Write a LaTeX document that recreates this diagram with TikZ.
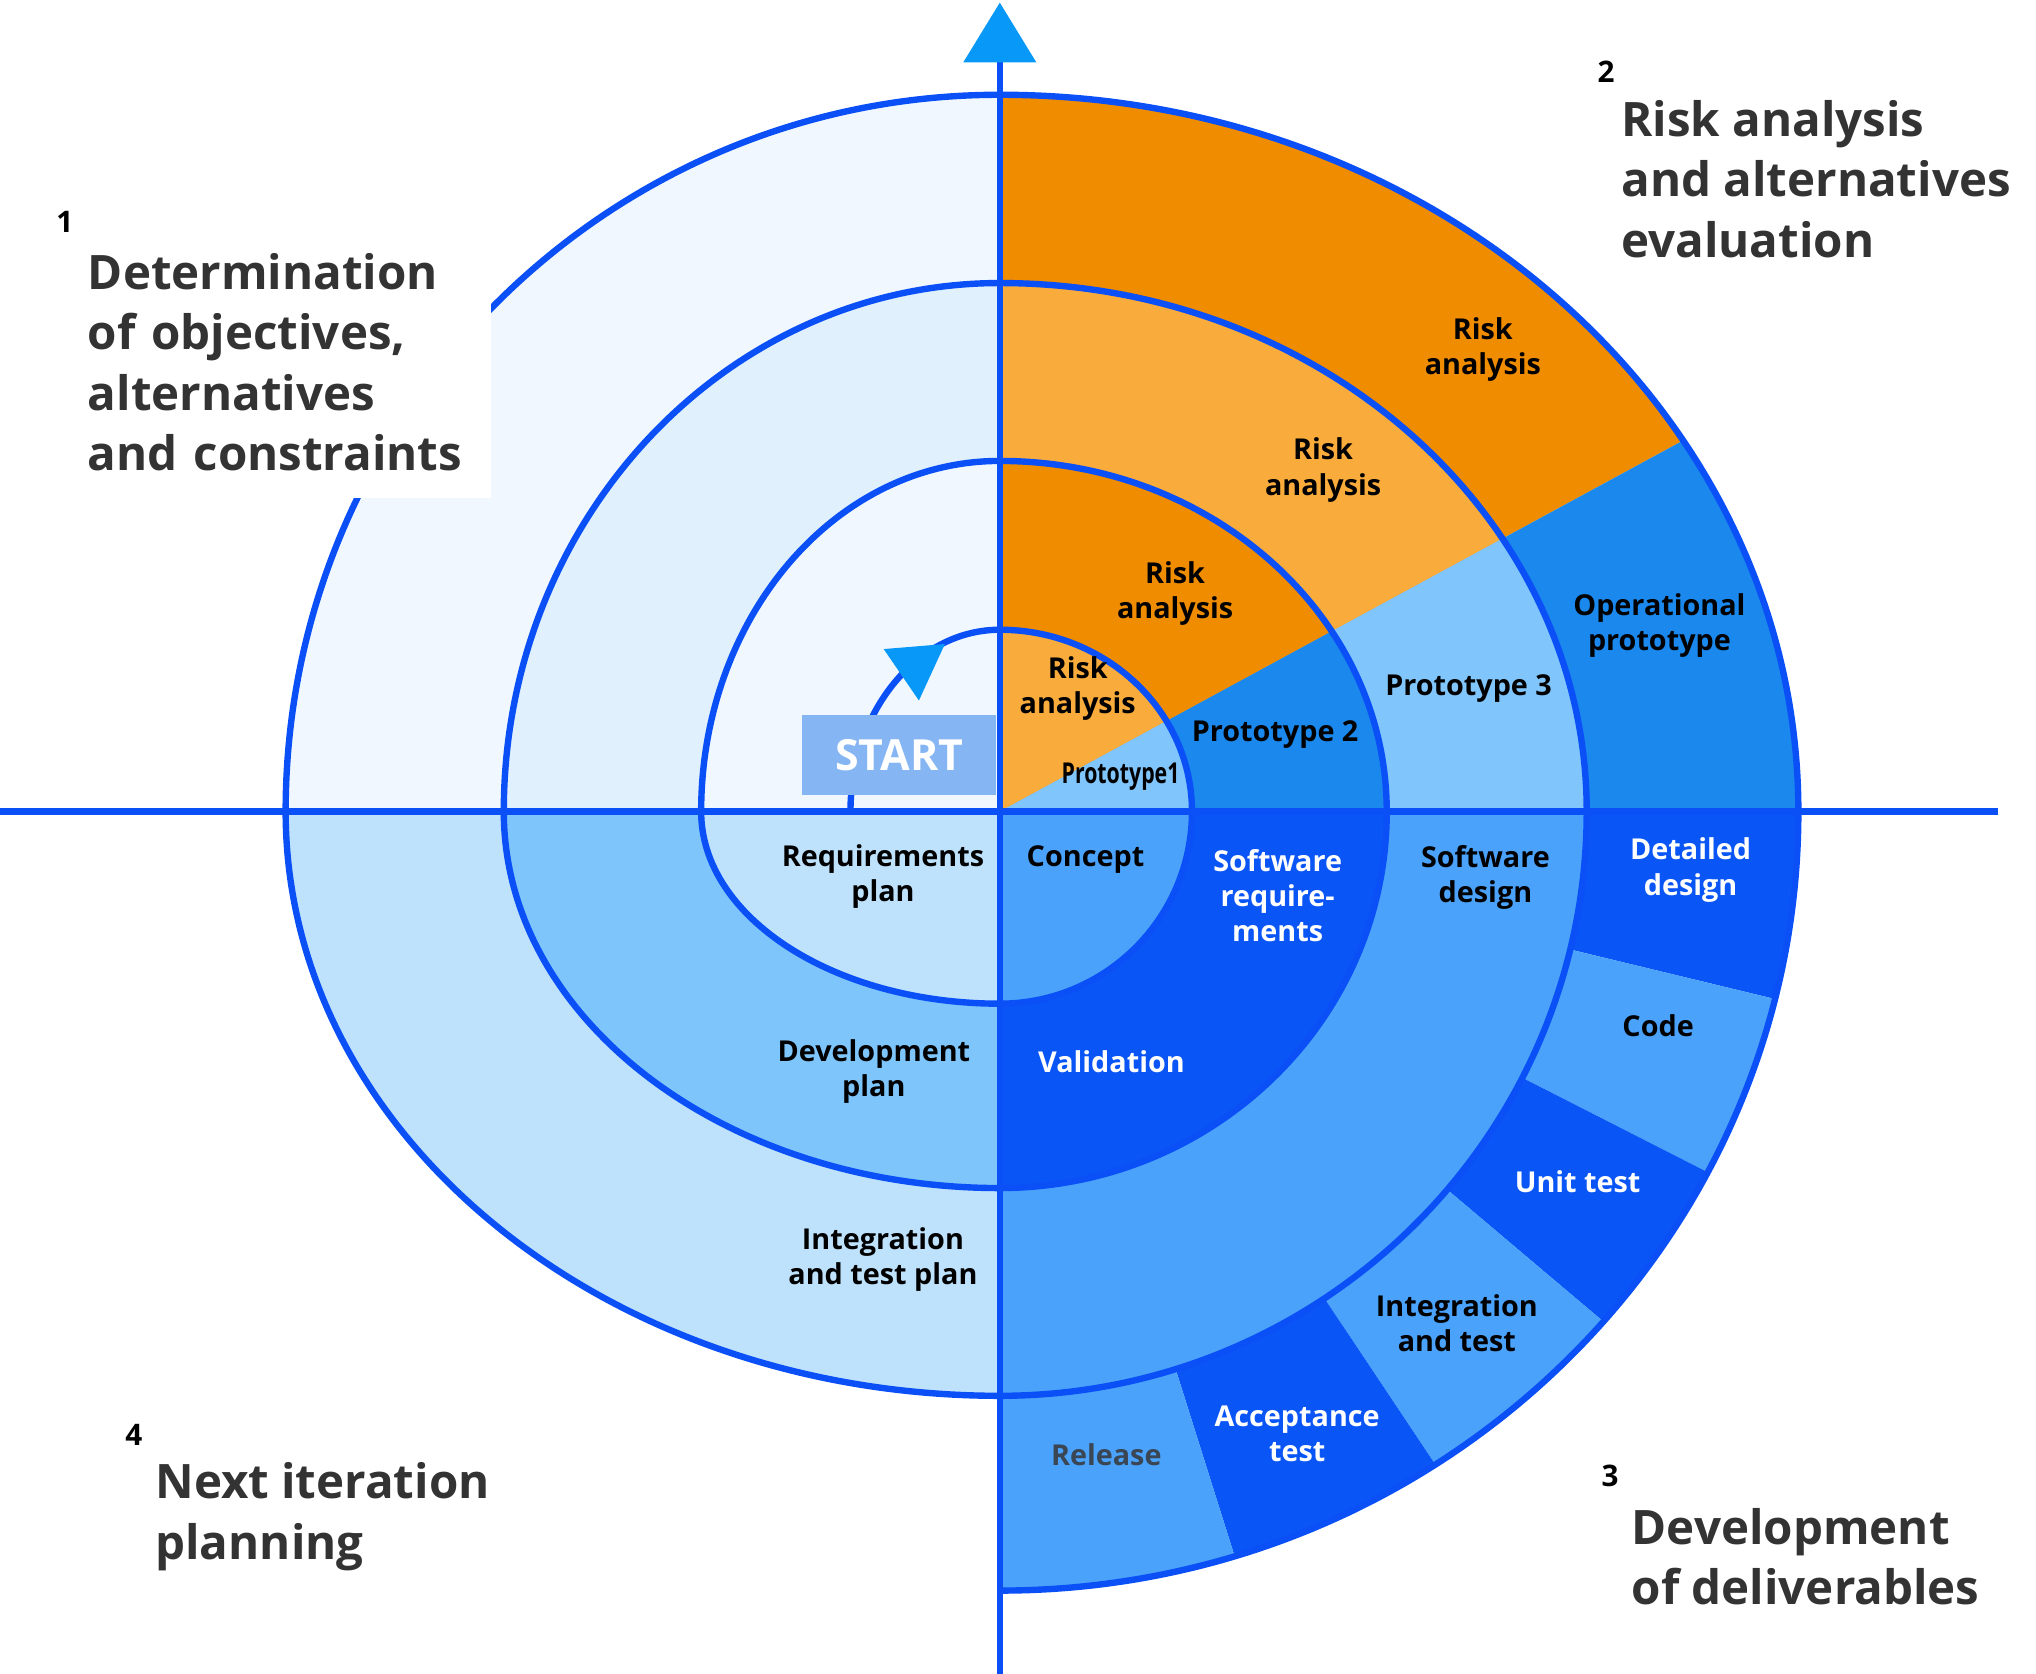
\documentclass[tikz,border=0pt]{standalone}
\usepackage{fontspec}
\setmainfont{Open Sans}
\usetikzlibrary{arrows.meta}
\definecolor{linebl}{HTML}{0B50F7}
\definecolor{arrbl}{HTML}{0898F7}
\definecolor{orgdk}{HTML}{F08C00}
\definecolor{orglt}{HTML}{F9AC3C}
\definecolor{protlt}{HTML}{80C5FB}
\definecolor{protmd}{HTML}{1A88EC}
\definecolor{devdk}{HTML}{0A55F6}
\definecolor{devmd}{HTML}{4AA2FA}
\definecolor{planlt}{HTML}{BEE2FC}
\definecolor{planmd}{HTML}{7DC5FB}
\definecolor{objlt}{HTML}{F0F7FE}
\definecolor{objmd}{HTML}{E0F0FC}
\definecolor{headgray}{HTML}{333333}
\definecolor{startbg}{HTML}{85B6F3}
\definecolor{relgray}{HTML}{3A4654}

\begin{document}
\begin{tikzpicture}[x=0.01cm, y=0.01cm,
  spiral/.style={draw=linebl, line width=1.4pt},
  axis/.style={draw=linebl, line width=1.4pt},
  lab/.style={font=\fontsize{6.3}{7.7}\selectfont\bfseries, align=center, text=black, inner sep=0pt},
  labw/.style={lab, text=white},
  head/.style={font=\fontsize{10.4}{13.2}\selectfont\bfseries, align=left, text=headgray, anchor=west, inner sep=0pt},
  num/.style={font=\fontsize{6.5}{8}\selectfont\bfseries, text=black, inner sep=0pt}]
\useasboundingbox (-770,-664) rectangle (798,625);

% quadrant 1: objectives
\fill[objlt] (0,0) -- (-550,0) arc[start angle=180, end angle=90, x radius=550, y radius=552] -- cycle;
\fill[objmd] (0,0) -- (-382,0) arc[start angle=180, end angle=90, x radius=382, y radius=407] -- cycle;
\fill[objlt] (0,0) -- (-230,0) arc[start angle=180, end angle=90, x radius=230, y radius=270] -- cycle;

% quadrant 2: risk analysis / prototypes
\foreach \rx/\ry/\ca/\cb in {615/552/orgdk/protmd, 452/407/orglt/protlt, 298/270/orgdk/protmd, 148/140/orglt/protlt} {
  \begin{scope}
    \clip (0,0) -- (0,\ry) arc[start angle=90, end angle=0, x radius=\rx, y radius=\ry] -- cycle;
    \fill[\ca] (0,0) -- (28.5:1000) -- (0,1000) -- cycle;
    \fill[\cb] (0,0) -- (1000,0) -- (28.5:1000) -- cycle;
  \end{scope}
}

% quadrant 3: deliverables
\begin{scope}
  \clip (0,0) -- (615,0) arc[start angle=0, end angle=-90, x radius=615, y radius=600] -- cycle;
  \foreach \a/\b/\c in {0/-13.6/devdk, -13.6/-27/devmd, -27/-40.2/devdk, -40.2/-56.3/devmd, -56.3/-72.5/devdk, -72.5/-90/devmd}
    \fill[\c] (0,0) -- (\a:1000) -- (\b:1000) -- cycle;
\end{scope}
\fill[devmd] (0,0) -- (452,0) arc[start angle=0, end angle=-90, x radius=452, y radius=450] -- cycle;
\fill[devdk] (0,0) -- (298,0) arc[start angle=0, end angle=-90, x radius=298, y radius=290] -- cycle;
\fill[devmd] (0,0) -- (148,0) arc[start angle=0, end angle=-90, x radius=148, y radius=148] -- cycle;

% quadrant 4: planning
\fill[planlt] (0,0) -- (0,-450) arc[start angle=-90, end angle=-180, x radius=550, y radius=450] -- cycle;
\fill[planmd] (0,0) -- (0,-290) arc[start angle=-90, end angle=-180, x radius=382, y radius=290] -- cycle;
\fill[planlt] (0,0) -- (0,-148) arc[start angle=-90, end angle=-180, x radius=230, y radius=148] -- cycle;

% the spiral
\draw[spiral] (-115,0)
  \foreach \s/\rx/\ry in {180/115/140, 90/148/140, 0/148/148, -90/230/148,
    -180/230/270, -270/298/270, -360/298/290, -450/382/290,
    -540/382/407, -630/452/407, -720/452/450, -810/550/450,
    -900/550/552, -990/615/552, -1080/615/600}
  { arc[start angle=\s, delta angle=-90, x radius=\rx, y radius=\ry] };

% axes
\coordinate (xl) at (-770,0);
\coordinate (xr) at (769,0);
\coordinate (yb) at (0,-664);
\coordinate (yt) at (0,623);
\draw[axis] (xl) -- (xr);
\draw[axis, -{Triangle[length=4.6mm, width=5.5mm, color=arrbl]}] (yb) -- (yt);

% start
\node[fill=startbg, text=white, minimum width=1.49cm, minimum height=0.61cm, inner sep=0pt,
  font=\fontsize{9.4}{10}\selectfont\bfseries] (start) at (-77.5,43.5) {START};
\fill[arrbl] (-89.4,125.1) -- (-42.3,129.0) -- (-62.3,85.5) -- cycle;

% ring labels
\node[lab] (risk0) at (60,95) {Risk\\analysis};
\node[lab] (risk1) at (135,168) {Risk\\analysis};
\node[lab] (risk2) at (249,263) {Risk\\analysis};
\node[lab] (risk3) at (372,356) {Risk\\analysis};
\node[lab] (proto1) at (93,27) {\scalebox{0.74}[1]{Prototype1}};
\node[lab] (proto2) at (212,59) {Prototype 2};
\node[lab] (proto3) at (361,95) {Prototype 3};
\node[lab] (oper) at (508,143) {Operational\\prototype};
\node[lab] (concept) at (66,-37) {Concept};
\node[labw] (swreq) at (214,-65) {Software\\require-\\ments};
\node[labw] (valid) at (86,-193) {Validation};
\node[lab] (swdes) at (374,-51) {Software\\design};
\node[labw] (detail) at (532,-45) {Detailed\\design};
\node[lab] (code) at (507,-165) {Code};
\node[labw] (unit) at (445,-285) {Unit test};
\node[lab] (integ) at (352,-394) {Integration\\and test};
\node[labw] (accept) at (229,-479) {Acceptance\\test};
\node[lab, text=relgray] (release) at (82,-495) {Release};
\node[lab] (reqplan) at (-90,-50) {Requirements\\plan};
\node[lab] (devplan) at (-97,-200) {Development\\plan};
\node[lab] (itplan) at (-90,-345) {Integration\\and test plan};

% quadrant headings
\node[head, fill=white, text width=3.1cm, inner ysep=6pt] (head1) at (-703,346) {Determination\\of objectives,\\alternatives\\and constraints};
\node[head] (head2) at (478,487) {Risk analysis\\and alternatives\\evaluation};
\node[head] (head3) at (486,-574) {Development\\of deliverables};
\node[head] (head4) at (-651,-543) {Next iteration\\planning};
\node[num] (n1) at (-720,454) {1};
\node[num] (n2) at (467,570) {2};
\node[num] (n3) at (470,-512) {3};
\node[num] (n4) at (-667,-480) {4};
\end{tikzpicture}
\end{document}
